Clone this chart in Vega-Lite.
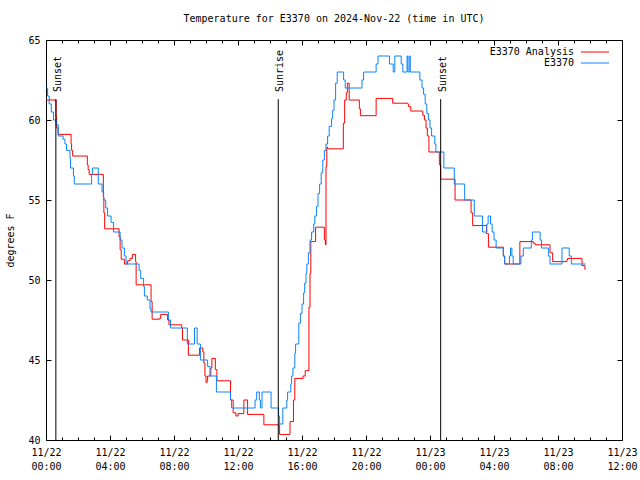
{
  "$schema": "https://vega.github.io/schema/vega-lite/v6.json",
  "width": 576,
  "height": 400,
  "autosize": {"type": "none"},
  "padding": {"left": 46, "top": 40, "right": 18, "bottom": 40},
  "background": "white",
  "config": {
    "font": "DejaVu Sans Mono",
    "view": {"stroke": "black", "strokeWidth": 1},
    "axis": {"domain": false, "grid": false, "labelFont": "DejaVu Sans Mono", "labelFontSize": 10, "labelColor": "black", "tickColor": "black", "tickWidth": 1, "titleFont": "DejaVu Sans Mono", "titleFontSize": 10, "titleFontWeight": "normal", "titleColor": "black", "labelOverlap": false, "labelFlush": false, "labelBound": false},
    "legend": {"labelFont": "DejaVu Sans Mono", "labelFontSize": 10, "labelColor": "black"}
  },
  "title": {"text": "Temperature for E3370 on 2024-Nov-22 (time in UTC)", "font": "DejaVu Sans Mono", "fontSize": 10, "fontWeight": "normal", "color": "black", "anchor": "middle", "offset": 11},
  "datasets": {
    "obs": [
      {"series": "E3370 Analysis", "time": "2024-11-22T00:00:00Z", "temp": 61.25},
      {"series": "E3370 Analysis", "time": "2024-11-22T00:38:00Z", "temp": 60.2},
      {"series": "E3370 Analysis", "time": "2024-11-22T00:40:00Z", "temp": 59.5},
      {"series": "E3370 Analysis", "time": "2024-11-22T00:45:00Z", "temp": 59.1},
      {"series": "E3370 Analysis", "time": "2024-11-22T01:34:00Z", "temp": 58.5},
      {"series": "E3370 Analysis", "time": "2024-11-22T01:36:00Z", "temp": 58.1},
      {"series": "E3370 Analysis", "time": "2024-11-22T01:40:00Z", "temp": 57.75},
      {"series": "E3370 Analysis", "time": "2024-11-22T02:35:00Z", "temp": 57.2},
      {"series": "E3370 Analysis", "time": "2024-11-22T02:38:00Z", "temp": 56.9},
      {"series": "E3370 Analysis", "time": "2024-11-22T02:42:00Z", "temp": 56.6},
      {"series": "E3370 Analysis", "time": "2024-11-22T03:35:00Z", "temp": 55.2},
      {"series": "E3370 Analysis", "time": "2024-11-22T03:37:00Z", "temp": 54.2},
      {"series": "E3370 Analysis", "time": "2024-11-22T03:40:00Z", "temp": 53.2},
      {"series": "E3370 Analysis", "time": "2024-11-22T04:34:00Z", "temp": 52.7},
      {"series": "E3370 Analysis", "time": "2024-11-22T04:38:00Z", "temp": 51.9},
      {"series": "E3370 Analysis", "time": "2024-11-22T04:42:00Z", "temp": 51.3},
      {"series": "E3370 Analysis", "time": "2024-11-22T04:54:00Z", "temp": 51.0},
      {"series": "E3370 Analysis", "time": "2024-11-22T05:06:00Z", "temp": 51.2},
      {"series": "E3370 Analysis", "time": "2024-11-22T05:15:00Z", "temp": 51.35},
      {"series": "E3370 Analysis", "time": "2024-11-22T05:24:00Z", "temp": 51.6},
      {"series": "E3370 Analysis", "time": "2024-11-22T05:36:00Z", "temp": 51.15},
      {"series": "E3370 Analysis", "time": "2024-11-22T05:38:00Z", "temp": 49.7},
      {"series": "E3370 Analysis", "time": "2024-11-22T06:34:00Z", "temp": 48.65},
      {"series": "E3370 Analysis", "time": "2024-11-22T06:38:00Z", "temp": 47.55},
      {"series": "E3370 Analysis", "time": "2024-11-22T07:06:00Z", "temp": 47.6},
      {"series": "E3370 Analysis", "time": "2024-11-22T07:10:00Z", "temp": 47.85},
      {"series": "E3370 Analysis", "time": "2024-11-22T07:36:00Z", "temp": 47.5},
      {"series": "E3370 Analysis", "time": "2024-11-22T07:41:00Z", "temp": 47.2},
      {"series": "E3370 Analysis", "time": "2024-11-22T08:29:00Z", "temp": 47.0},
      {"series": "E3370 Analysis", "time": "2024-11-22T08:32:00Z", "temp": 46.25},
      {"series": "E3370 Analysis", "time": "2024-11-22T08:54:00Z", "temp": 45.3},
      {"series": "E3370 Analysis", "time": "2024-11-22T09:36:00Z", "temp": 45.75},
      {"series": "E3370 Analysis", "time": "2024-11-22T09:48:00Z", "temp": 45.5},
      {"series": "E3370 Analysis", "time": "2024-11-22T09:52:00Z", "temp": 44.8},
      {"series": "E3370 Analysis", "time": "2024-11-22T09:56:00Z", "temp": 44.0},
      {"series": "E3370 Analysis", "time": "2024-11-22T10:00:00Z", "temp": 43.6},
      {"series": "E3370 Analysis", "time": "2024-11-22T10:04:00Z", "temp": 43.7},
      {"series": "E3370 Analysis", "time": "2024-11-22T10:06:00Z", "temp": 44.0},
      {"series": "E3370 Analysis", "time": "2024-11-22T10:18:00Z", "temp": 44.5},
      {"series": "E3370 Analysis", "time": "2024-11-22T10:22:00Z", "temp": 45.1},
      {"series": "E3370 Analysis", "time": "2024-11-22T10:35:00Z", "temp": 44.4},
      {"series": "E3370 Analysis", "time": "2024-11-22T10:41:00Z", "temp": 43.7},
      {"series": "E3370 Analysis", "time": "2024-11-22T11:32:00Z", "temp": 42.5},
      {"series": "E3370 Analysis", "time": "2024-11-22T11:42:00Z", "temp": 41.7},
      {"series": "E3370 Analysis", "time": "2024-11-22T11:52:00Z", "temp": 41.5},
      {"series": "E3370 Analysis", "time": "2024-11-22T12:00:00Z", "temp": 41.65},
      {"series": "E3370 Analysis", "time": "2024-11-22T12:22:00Z", "temp": 42.5},
      {"series": "E3370 Analysis", "time": "2024-11-22T12:36:00Z", "temp": 41.6},
      {"series": "E3370 Analysis", "time": "2024-11-22T13:37:00Z", "temp": 40.95},
      {"series": "E3370 Analysis", "time": "2024-11-22T14:36:00Z", "temp": 40.35},
      {"series": "E3370 Analysis", "time": "2024-11-22T15:15:00Z", "temp": 41.15},
      {"series": "E3370 Analysis", "time": "2024-11-22T15:28:00Z", "temp": 42.5},
      {"series": "E3370 Analysis", "time": "2024-11-22T15:33:00Z", "temp": 43.85},
      {"series": "E3370 Analysis", "time": "2024-11-22T16:04:00Z", "temp": 44.0},
      {"series": "E3370 Analysis", "time": "2024-11-22T16:12:00Z", "temp": 44.33},
      {"series": "E3370 Analysis", "time": "2024-11-22T16:26:00Z", "temp": 48.3},
      {"series": "E3370 Analysis", "time": "2024-11-22T16:30:00Z", "temp": 50.4},
      {"series": "E3370 Analysis", "time": "2024-11-22T16:33:00Z", "temp": 52.4},
      {"series": "E3370 Analysis", "time": "2024-11-22T16:51:00Z", "temp": 53.3},
      {"series": "E3370 Analysis", "time": "2024-11-22T17:24:00Z", "temp": 52.5},
      {"series": "E3370 Analysis", "time": "2024-11-22T17:28:00Z", "temp": 52.2},
      {"series": "E3370 Analysis", "time": "2024-11-22T17:30:00Z", "temp": 57.1},
      {"series": "E3370 Analysis", "time": "2024-11-22T17:33:00Z", "temp": 58.3},
      {"series": "E3370 Analysis", "time": "2024-11-22T17:36:00Z", "temp": 58.2},
      {"series": "E3370 Analysis", "time": "2024-11-22T18:35:00Z", "temp": 59.8},
      {"series": "E3370 Analysis", "time": "2024-11-22T18:40:00Z", "temp": 61.25},
      {"series": "E3370 Analysis", "time": "2024-11-22T18:46:00Z", "temp": 61.7},
      {"series": "E3370 Analysis", "time": "2024-11-22T18:50:00Z", "temp": 62.3},
      {"series": "E3370 Analysis", "time": "2024-11-22T18:57:00Z", "temp": 61.25},
      {"series": "E3370 Analysis", "time": "2024-11-22T19:35:00Z", "temp": 60.7},
      {"series": "E3370 Analysis", "time": "2024-11-22T19:39:00Z", "temp": 60.27},
      {"series": "E3370 Analysis", "time": "2024-11-22T20:38:00Z", "temp": 61.35},
      {"series": "E3370 Analysis", "time": "2024-11-22T21:40:00Z", "temp": 61.05},
      {"series": "E3370 Analysis", "time": "2024-11-22T22:36:00Z", "temp": 61.0},
      {"series": "E3370 Analysis", "time": "2024-11-22T22:40:00Z", "temp": 60.83},
      {"series": "E3370 Analysis", "time": "2024-11-22T22:48:00Z", "temp": 60.56},
      {"series": "E3370 Analysis", "time": "2024-11-22T23:33:00Z", "temp": 60.3},
      {"series": "E3370 Analysis", "time": "2024-11-22T23:39:00Z", "temp": 60.0},
      {"series": "E3370 Analysis", "time": "2024-11-22T23:45:00Z", "temp": 59.5},
      {"series": "E3370 Analysis", "time": "2024-11-22T23:50:00Z", "temp": 59.0},
      {"series": "E3370 Analysis", "time": "2024-11-22T23:56:00Z", "temp": 58.0},
      {"series": "E3370 Analysis", "time": "2024-11-23T00:35:00Z", "temp": 57.2},
      {"series": "E3370 Analysis", "time": "2024-11-23T00:40:00Z", "temp": 56.3},
      {"series": "E3370 Analysis", "time": "2024-11-23T01:34:00Z", "temp": 55.0},
      {"series": "E3370 Analysis", "time": "2024-11-23T02:34:00Z", "temp": 54.2},
      {"series": "E3370 Analysis", "time": "2024-11-23T02:40:00Z", "temp": 53.4},
      {"series": "E3370 Analysis", "time": "2024-11-23T03:32:00Z", "temp": 52.9},
      {"series": "E3370 Analysis", "time": "2024-11-23T03:39:00Z", "temp": 52.05},
      {"series": "E3370 Analysis", "time": "2024-11-23T04:35:00Z", "temp": 51.5},
      {"series": "E3370 Analysis", "time": "2024-11-23T04:40:00Z", "temp": 51.0},
      {"series": "E3370 Analysis", "time": "2024-11-23T05:37:00Z", "temp": 52.4},
      {"series": "E3370 Analysis", "time": "2024-11-23T06:27:00Z", "temp": 52.3},
      {"series": "E3370 Analysis", "time": "2024-11-23T06:34:00Z", "temp": 52.2},
      {"series": "E3370 Analysis", "time": "2024-11-23T07:30:00Z", "temp": 51.7},
      {"series": "E3370 Analysis", "time": "2024-11-23T07:40:00Z", "temp": 51.15},
      {"series": "E3370 Analysis", "time": "2024-11-23T08:33:00Z", "temp": 51.25},
      {"series": "E3370 Analysis", "time": "2024-11-23T08:36:00Z", "temp": 51.35},
      {"series": "E3370 Analysis", "time": "2024-11-23T09:30:00Z", "temp": 50.9},
      {"series": "E3370 Analysis", "time": "2024-11-23T09:41:00Z", "temp": 50.67},
      {"series": "E3370 Analysis", "time": "2024-11-23T09:44:00Z", "temp": 50.67},
      {"series": "E3370", "time": "2024-11-22T00:00:00Z", "temp": 62.0},
      {"series": "E3370", "time": "2024-11-22T00:06:00Z", "temp": 61.5},
      {"series": "E3370", "time": "2024-11-22T00:12:00Z", "temp": 61.0},
      {"series": "E3370", "time": "2024-11-22T00:20:00Z", "temp": 60.5},
      {"series": "E3370", "time": "2024-11-22T00:28:00Z", "temp": 60.0},
      {"series": "E3370", "time": "2024-11-22T00:38:00Z", "temp": 59.7},
      {"series": "E3370", "time": "2024-11-22T00:46:00Z", "temp": 59.0},
      {"series": "E3370", "time": "2024-11-22T01:04:00Z", "temp": 58.8},
      {"series": "E3370", "time": "2024-11-22T01:11:00Z", "temp": 58.5},
      {"series": "E3370", "time": "2024-11-22T01:17:00Z", "temp": 58.1},
      {"series": "E3370", "time": "2024-11-22T01:30:00Z", "temp": 57.6},
      {"series": "E3370", "time": "2024-11-22T01:32:00Z", "temp": 57.0},
      {"series": "E3370", "time": "2024-11-22T01:43:00Z", "temp": 56.5},
      {"series": "E3370", "time": "2024-11-22T01:46:00Z", "temp": 56.0},
      {"series": "E3370", "time": "2024-11-22T02:51:00Z", "temp": 56.6},
      {"series": "E3370", "time": "2024-11-22T02:54:00Z", "temp": 57.0},
      {"series": "E3370", "time": "2024-11-22T03:16:00Z", "temp": 56.0},
      {"series": "E3370", "time": "2024-11-22T03:30:00Z", "temp": 55.5},
      {"series": "E3370", "time": "2024-11-22T03:36:00Z", "temp": 55.0},
      {"series": "E3370", "time": "2024-11-22T03:44:00Z", "temp": 54.5},
      {"series": "E3370", "time": "2024-11-22T03:51:00Z", "temp": 54.0},
      {"series": "E3370", "time": "2024-11-22T04:04:00Z", "temp": 53.6},
      {"series": "E3370", "time": "2024-11-22T04:13:00Z", "temp": 53.0},
      {"series": "E3370", "time": "2024-11-22T04:38:00Z", "temp": 52.5},
      {"series": "E3370", "time": "2024-11-22T04:45:00Z", "temp": 52.0},
      {"series": "E3370", "time": "2024-11-22T04:54:00Z", "temp": 51.5},
      {"series": "E3370", "time": "2024-11-22T05:00:00Z", "temp": 51.0},
      {"series": "E3370", "time": "2024-11-22T05:49:00Z", "temp": 50.6},
      {"series": "E3370", "time": "2024-11-22T05:55:00Z", "temp": 50.1},
      {"series": "E3370", "time": "2024-11-22T06:06:00Z", "temp": 49.6},
      {"series": "E3370", "time": "2024-11-22T06:09:00Z", "temp": 49.0},
      {"series": "E3370", "time": "2024-11-22T06:20:00Z", "temp": 48.75},
      {"series": "E3370", "time": "2024-11-22T06:30:00Z", "temp": 48.2},
      {"series": "E3370", "time": "2024-11-22T06:34:00Z", "temp": 48.0},
      {"series": "E3370", "time": "2024-11-22T07:39:00Z", "temp": 47.5},
      {"series": "E3370", "time": "2024-11-22T07:47:00Z", "temp": 47.0},
      {"series": "E3370", "time": "2024-11-22T08:50:00Z", "temp": 46.0},
      {"series": "E3370", "time": "2024-11-22T09:17:00Z", "temp": 47.0},
      {"series": "E3370", "time": "2024-11-22T09:27:00Z", "temp": 46.0},
      {"series": "E3370", "time": "2024-11-22T09:39:00Z", "temp": 45.0},
      {"series": "E3370", "time": "2024-11-22T10:06:00Z", "temp": 44.6},
      {"series": "E3370", "time": "2024-11-22T10:15:00Z", "temp": 44.0},
      {"series": "E3370", "time": "2024-11-22T10:39:00Z", "temp": 43.0},
      {"series": "E3370", "time": "2024-11-22T11:32:00Z", "temp": 42.5},
      {"series": "E3370", "time": "2024-11-22T11:36:00Z", "temp": 42.0},
      {"series": "E3370", "time": "2024-11-22T13:04:00Z", "temp": 42.5},
      {"series": "E3370", "time": "2024-11-22T13:10:00Z", "temp": 43.0},
      {"series": "E3370", "time": "2024-11-22T13:20:00Z", "temp": 42.5},
      {"series": "E3370", "time": "2024-11-22T13:24:00Z", "temp": 42.0},
      {"series": "E3370", "time": "2024-11-22T13:30:00Z", "temp": 43.0},
      {"series": "E3370", "time": "2024-11-22T14:04:00Z", "temp": 42.0},
      {"series": "E3370", "time": "2024-11-22T14:32:00Z", "temp": 41.5},
      {"series": "E3370", "time": "2024-11-22T14:36:00Z", "temp": 41.0},
      {"series": "E3370", "time": "2024-11-22T14:48:00Z", "temp": 42.0},
      {"series": "E3370", "time": "2024-11-22T15:03:00Z", "temp": 42.5},
      {"series": "E3370", "time": "2024-11-22T15:06:00Z", "temp": 43.0},
      {"series": "E3370", "time": "2024-11-22T15:18:00Z", "temp": 43.5},
      {"series": "E3370", "time": "2024-11-22T15:21:00Z", "temp": 44.0},
      {"series": "E3370", "time": "2024-11-22T15:26:00Z", "temp": 44.5},
      {"series": "E3370", "time": "2024-11-22T15:33:00Z", "temp": 45.4},
      {"series": "E3370", "time": "2024-11-22T15:36:00Z", "temp": 46.0},
      {"series": "E3370", "time": "2024-11-22T15:48:00Z", "temp": 47.3},
      {"series": "E3370", "time": "2024-11-22T15:54:00Z", "temp": 47.9},
      {"series": "E3370", "time": "2024-11-22T16:00:00Z", "temp": 48.5},
      {"series": "E3370", "time": "2024-11-22T16:06:00Z", "temp": 49.2},
      {"series": "E3370", "time": "2024-11-22T16:10:00Z", "temp": 49.8},
      {"series": "E3370", "time": "2024-11-22T16:15:00Z", "temp": 50.4},
      {"series": "E3370", "time": "2024-11-22T16:18:00Z", "temp": 51.0},
      {"series": "E3370", "time": "2024-11-22T16:24:00Z", "temp": 51.7},
      {"series": "E3370", "time": "2024-11-22T16:30:00Z", "temp": 52.5},
      {"series": "E3370", "time": "2024-11-22T16:36:00Z", "temp": 53.0},
      {"series": "E3370", "time": "2024-11-22T16:44:00Z", "temp": 53.5},
      {"series": "E3370", "time": "2024-11-22T16:48:00Z", "temp": 54.0},
      {"series": "E3370", "time": "2024-11-22T16:54:00Z", "temp": 54.6},
      {"series": "E3370", "time": "2024-11-22T17:00:00Z", "temp": 55.4},
      {"series": "E3370", "time": "2024-11-22T17:06:00Z", "temp": 56.0},
      {"series": "E3370", "time": "2024-11-22T17:12:00Z", "temp": 56.7},
      {"series": "E3370", "time": "2024-11-22T17:18:00Z", "temp": 57.5},
      {"series": "E3370", "time": "2024-11-22T17:24:00Z", "temp": 58.1},
      {"series": "E3370", "time": "2024-11-22T17:30:00Z", "temp": 58.5},
      {"series": "E3370", "time": "2024-11-22T17:36:00Z", "temp": 59.0},
      {"series": "E3370", "time": "2024-11-22T17:42:00Z", "temp": 59.6},
      {"series": "E3370", "time": "2024-11-22T17:51:00Z", "temp": 60.1},
      {"series": "E3370", "time": "2024-11-22T17:55:00Z", "temp": 60.6},
      {"series": "E3370", "time": "2024-11-22T18:00:00Z", "temp": 61.25},
      {"series": "E3370", "time": "2024-11-22T18:06:00Z", "temp": 62.3},
      {"series": "E3370", "time": "2024-11-22T18:12:00Z", "temp": 63.0},
      {"series": "E3370", "time": "2024-11-22T18:36:00Z", "temp": 62.5},
      {"series": "E3370", "time": "2024-11-22T18:42:00Z", "temp": 62.0},
      {"series": "E3370", "time": "2024-11-22T19:45:00Z", "temp": 62.5},
      {"series": "E3370", "time": "2024-11-22T19:51:00Z", "temp": 63.0},
      {"series": "E3370", "time": "2024-11-22T20:38:00Z", "temp": 63.5},
      {"series": "E3370", "time": "2024-11-22T20:45:00Z", "temp": 64.0},
      {"series": "E3370", "time": "2024-11-22T21:28:00Z", "temp": 63.5},
      {"series": "E3370", "time": "2024-11-22T21:42:00Z", "temp": 63.0},
      {"series": "E3370", "time": "2024-11-22T21:48:00Z", "temp": 64.0},
      {"series": "E3370", "time": "2024-11-22T22:12:00Z", "temp": 63.5},
      {"series": "E3370", "time": "2024-11-22T22:18:00Z", "temp": 63.0},
      {"series": "E3370", "time": "2024-11-22T22:34:00Z", "temp": 64.0},
      {"series": "E3370", "time": "2024-11-22T22:37:00Z", "temp": 63.0},
      {"series": "E3370", "time": "2024-11-22T22:42:00Z", "temp": 64.0},
      {"series": "E3370", "time": "2024-11-22T22:46:00Z", "temp": 63.0},
      {"series": "E3370", "time": "2024-11-22T23:22:00Z", "temp": 62.5},
      {"series": "E3370", "time": "2024-11-22T23:30:00Z", "temp": 62.0},
      {"series": "E3370", "time": "2024-11-22T23:36:00Z", "temp": 61.6},
      {"series": "E3370", "time": "2024-11-22T23:42:00Z", "temp": 61.0},
      {"series": "E3370", "time": "2024-11-22T23:48:00Z", "temp": 60.4},
      {"series": "E3370", "time": "2024-11-22T23:54:00Z", "temp": 60.0},
      {"series": "E3370", "time": "2024-11-23T00:00:00Z", "temp": 59.5},
      {"series": "E3370", "time": "2024-11-23T00:06:00Z", "temp": 59.0},
      {"series": "E3370", "time": "2024-11-23T00:18:00Z", "temp": 58.5},
      {"series": "E3370", "time": "2024-11-23T00:22:00Z", "temp": 58.0},
      {"series": "E3370", "time": "2024-11-23T00:52:00Z", "temp": 57.0},
      {"series": "E3370", "time": "2024-11-23T01:31:00Z", "temp": 56.0},
      {"series": "E3370", "time": "2024-11-23T02:10:00Z", "temp": 55.0},
      {"series": "E3370", "time": "2024-11-23T02:46:00Z", "temp": 54.0},
      {"series": "E3370", "time": "2024-11-23T03:17:00Z", "temp": 53.0},
      {"series": "E3370", "time": "2024-11-23T03:33:00Z", "temp": 53.5},
      {"series": "E3370", "time": "2024-11-23T03:38:00Z", "temp": 54.0},
      {"series": "E3370", "time": "2024-11-23T03:47:00Z", "temp": 53.5},
      {"series": "E3370", "time": "2024-11-23T03:53:00Z", "temp": 53.0},
      {"series": "E3370", "time": "2024-11-23T04:00:00Z", "temp": 52.5},
      {"series": "E3370", "time": "2024-11-23T04:08:00Z", "temp": 52.0},
      {"series": "E3370", "time": "2024-11-23T04:35:00Z", "temp": 51.5},
      {"series": "E3370", "time": "2024-11-23T04:40:00Z", "temp": 51.0},
      {"series": "E3370", "time": "2024-11-23T04:58:00Z", "temp": 51.5},
      {"series": "E3370", "time": "2024-11-23T05:02:00Z", "temp": 52.0},
      {"series": "E3370", "time": "2024-11-23T05:07:00Z", "temp": 51.5},
      {"series": "E3370", "time": "2024-11-23T05:12:00Z", "temp": 51.0},
      {"series": "E3370", "time": "2024-11-23T05:41:00Z", "temp": 51.5},
      {"series": "E3370", "time": "2024-11-23T05:50:00Z", "temp": 52.0},
      {"series": "E3370", "time": "2024-11-23T06:20:00Z", "temp": 52.5},
      {"series": "E3370", "time": "2024-11-23T06:24:00Z", "temp": 53.0},
      {"series": "E3370", "time": "2024-11-23T06:53:00Z", "temp": 52.5},
      {"series": "E3370", "time": "2024-11-23T06:58:00Z", "temp": 52.0},
      {"series": "E3370", "time": "2024-11-23T07:24:00Z", "temp": 51.5},
      {"series": "E3370", "time": "2024-11-23T07:30:00Z", "temp": 51.0},
      {"series": "E3370", "time": "2024-11-23T08:15:00Z", "temp": 52.0},
      {"series": "E3370", "time": "2024-11-23T08:42:00Z", "temp": 51.5},
      {"series": "E3370", "time": "2024-11-23T08:50:00Z", "temp": 51.0},
      {"series": "E3370", "time": "2024-11-23T09:44:00Z", "temp": 51.0}
    ],
    "sun": [
      {"event": "Sunset", "time": "2024-11-22T00:37:00Z"},
      {"event": "Sunrise", "time": "2024-11-22T14:31:00Z"},
      {"event": "Sunset", "time": "2024-11-23T00:40:00Z"}
    ]
  },
  "layer": [
    {
      "data": {"name": "obs"},
      "transform": [{"filter": "datum.series === 'E3370 Analysis'"}],
      "mark": {"type": "line", "interpolate": "step-after", "strokeWidth": 1},
      "encoding": {
        "x": {"field": "time", "type": "temporal",
          "scale": {"type": "utc", "domain": [1732233600000, 1732363200000], "nice": false},
          "axis": {"orient": "bottom", "title": null,
            "values": [1732233600000, 1732248000000, 1732262400000, 1732276800000, 1732291200000, 1732305600000, 1732320000000, 1732334400000, 1732348800000, 1732363200000],
            "tickSize": -5, "labelPadding": 12, "labelLineHeight": 14, "labelBaseline": "top",
            "labelExpr": "[utcFormat(datum.value, '%m/%d'), utcFormat(datum.value, '%H:%M')]"}},
        "y": {"field": "temp", "type": "quantitative", "scale": {"domain": [40, 65], "nice": false, "zero": false},
          "axis": {"orient": "left", "values": [40, 45, 50, 55, 60, 65], "tickSize": -5, "labelPadding": 11, "title": "degrees F", "titlePadding": 12}},
        "color": {"field": "series", "type": "nominal",
          "scale": {"domain": ["E3370 Analysis", "E3370"], "range": ["#ff0000", "#0a84ff"]},
          "legend": {"orient": "none", "legendX": 544, "legendY": 7, "title": null, "symbolType": "M-7,0H7", "symbolStrokeWidth": 1, "symbolSize": 16, "symbolFillColor": "transparent", "labelAlign": "right", "labelOffset": -26, "rowPadding": 1, "padding": 0}}
      }
    },
    {
      "data": {"name": "obs"},
      "transform": [{"filter": "datum.series === 'E3370'"}],
      "mark": {"type": "line", "interpolate": "step-after", "strokeWidth": 1},
      "encoding": {
        "x": {"field": "time", "type": "temporal",
          "axis": {"orient": "bottom", "title": null, "labels": false, "tickSize": -3,
            "values": [1732233600000, 1732237200000, 1732240800000, 1732244400000, 1732248000000, 1732251600000, 1732255200000, 1732258800000, 1732262400000, 1732266000000, 1732269600000, 1732273200000, 1732276800000, 1732280400000, 1732284000000, 1732287600000, 1732291200000, 1732294800000, 1732298400000, 1732302000000, 1732305600000, 1732309200000, 1732312800000, 1732316400000, 1732320000000, 1732323600000, 1732327200000, 1732330800000, 1732334400000, 1732338000000, 1732341600000, 1732345200000, 1732348800000, 1732352400000, 1732356000000, 1732359600000, 1732363200000]}},
        "y": {"field": "temp", "type": "quantitative",
          "axis": {"orient": "right", "values": [40, 45, 50, 55, 60, 65], "tickSize": -5, "labels": false, "title": null}},
        "color": {"field": "series", "type": "nominal"}
      }
    },
    {
      "data": {"name": "sun"},
      "mark": {"type": "rule", "color": "black", "strokeWidth": 1},
      "encoding": {
        "x": {"field": "time", "type": "temporal",
          "axis": {"orient": "top", "title": null, "labels": false, "tickSize": -5,
            "values": [1732233600000, 1732248000000, 1732262400000, 1732276800000, 1732291200000, 1732305600000, 1732320000000, 1732334400000, 1732348800000, 1732363200000]}},
        "y": {"datum": 61.3, "type": "quantitative", "axis": null},
        "y2": {"datum": 40}
      }
    },
    {
      "data": {"name": "sun"},
      "mark": {"type": "text", "angle": 270, "align": "left", "baseline": "middle", "dy": 2, "font": "DejaVu Sans Mono", "fontSize": 10, "color": "black"},
      "encoding": {
        "x": {"field": "time", "type": "temporal",
          "axis": {"orient": "top", "title": null, "labels": false, "tickSize": -3,
            "values": [1732233600000, 1732237200000, 1732240800000, 1732244400000, 1732248000000, 1732251600000, 1732255200000, 1732258800000, 1732262400000, 1732266000000, 1732269600000, 1732273200000, 1732276800000, 1732280400000, 1732284000000, 1732287600000, 1732291200000, 1732294800000, 1732298400000, 1732302000000, 1732305600000, 1732309200000, 1732312800000, 1732316400000, 1732320000000, 1732323600000, 1732327200000, 1732330800000, 1732334400000, 1732338000000, 1732341600000, 1732345200000, 1732348800000, 1732352400000, 1732356000000, 1732359600000, 1732363200000]}},
        "y": {"datum": 61.75, "type": "quantitative", "axis": null},
        "text": {"field": "event"}
      }
    }
  ],
  "resolve": {"axis": {"x": "independent", "y": "independent"}}
}
